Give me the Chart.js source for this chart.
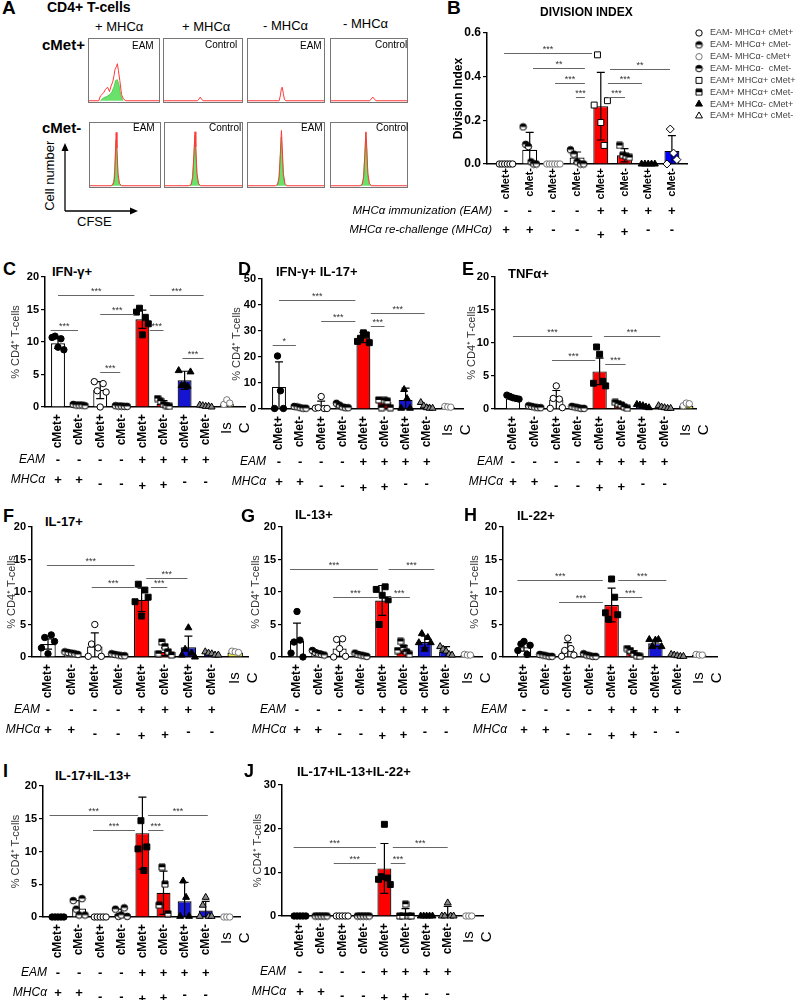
<!DOCTYPE html>
<html><head><meta charset="utf-8">
<script src="https://cdn.jsdelivr.net/npm/chart.js@4.4.1/dist/chart.umd.min.js"></script>
<style>
html,body{margin:0;padding:0;background:#fff}
body{position:relative;width:800px;height:1000px;overflow:hidden;font-family:'Liberation Sans',Arial,sans-serif}
.t{position:absolute;white-space:nowrap;color:#000}
canvas{position:absolute}
</style></head><body>
<svg width="800" height="1000" style="position:absolute;left:0;top:0">
 <line x1="65" y1="211" x2="65" y2="148" stroke="#000" stroke-width="1.3"/>
 <polygon points="65,143 61.5,151 68.5,151" fill="#000"/>
 <line x1="65" y1="211" x2="132" y2="211" stroke="#000" stroke-width="1.3"/>
 <polygon points="138,211 130,207.5 130,214.5" fill="#000"/>
</svg>
<script>
// ---------------- DATA ----------------
const cats  = ['cMet+','cMet-','cMet+','cMet-','cMet+','cMet-','cMet+','cMet-','IsC'];
const catsB = ['cMet+','cMet-','cMet+','cMet-','cMet+','cMet-','cMet+','cMet-'];
const eamSigns = ['-','-','-','-','+','+','+','+'];
const mhcSigns = ['+','+','-','-','+','+','-','-'];
const legendB = ['EAM- MHCα+ cMet+','EAM- MHCα+ cMet-','EAM- MHCα- cMet+','EAM- MHCα-  cMet-',
                 'EAM+ MHCα+ cMet+','EAM+ MHCα+ cMet-','EAM+ MHCα- cMet+','EAM+ MHCα+ cMet-'];

// B  Division index
const bMean = [0, 0.065, 0, 0.03, 0.265, 0.04, 0, 0.06];
const bSD   = [0, 0.08, 0, 0.025, 0.155, 0.03, 0, 0.07];
const bPts  = [[0,0,0,0,0,0],[0.17,0.09,0.08,0.01,0,0],[0,0,0,0,0,0],[0.065,0.045,0.01,0,0],
               [0.27,0.5,0.19,0.085,0.29],[0.085,0.04,0.035,0.03],[0,0,0,0,0],[0,0.16,0.05,0.02]];
const bSig  = [[-0.08,3.63,0.508,'***'],[1.14,3.33,0.44,'**'],[2.07,3.33,0.371,'***'],[2.95,3.33,0.307,'***'],
               [4.3,5.02,0.307,'***'],[4.3,5.74,0.371,'***'],[4.39,6.92,0.435,'**']];

// C  IFN-g+
const cMean = [9.8, 0.3, 2.6, 0.15, 13.5, 0.5, 4.1, 0.1, 0.5];
const cSD   = [0.8, 0.1, 1.3, 0.05, 1.4, 0.5, 1.4, 0.1, 0.3];
const cPts  = [[10.7,10.9,9.2,10.5,8.8],[0.4,0.3,0.3,0.3,0.2],[3.9,2.5,0,3.6,2.3],[0.2,0.15,0.15,0.1,0.1],
               [14.6,15.2,11.1,13.8,12.8],[1.3,0.9,0.4,0.2,0.1],[5.6,3.3,3.4,3.2,5.4],[0.3,0.2,0.1,0.1,0],[0.4,1.1,0.6]];
const cSig  = [[0,3.62,17.2,'***'],[2,3.62,14.3,'***'],[-0.35,0.95,11.8,'***'],[2.0,2.95,5.4,'***'],
               [4.35,5.0,11.8,'***'],[4.35,6.9,17.2,'***'],[5.9,6.9,7.5,'***']];

// D  IFN-g+ IL-17+
const dMean = [8.5, 0.5, 0.8, 1.0, 27.5, 2.8, 3.5, 0.6, 0.8];
const dSD   = [9.6, 0.3, 2.2, 0.7, 2.0, 1.2, 4.5, 0.8, 0.2];
const dPts  = [[0.2,20.4,7.0,0.2],[1.0,0.8,0.5,0.3,0.3],[0.3,0.5,4.8,0.2,0.2],[2.2,1.5,0.8,0.5,0.5],
               [26.0,27.2,29.3,28.5,25.5],[3.5,0.5,3.3,3.0,0.5],[0.3,7.5,4.0,0.3],[2.5,1.2,0.5,0.3,0.3],[1.0,0.8,0.7]];
const dSig  = [[-0.3,0.8,24.6,'*'],[0,3.62,42,'***'],[2,3.62,34,'***'],[4.35,5.0,32,'***'],[4.35,6.9,37,'***']];

// E  TNFa+
const eMean = [1.6, 0.3, 1.4, 0.2, 5.7, 0.6, 0.4, 0.2, 0.5];
const eSD   = [0.2, 0.1, 1.4, 0.1, 2.0, 0.3, 0.2, 0.2, 0.2];
const ePts  = [[2.1,1.9,1.7,1.6,1.5],[0.5,0.4,0.3,0.2,0.2],[0.1,1.6,3.5,1.5,0.2],[0.4,0.3,0.2,0.1,0.1],
               [3.9,9.4,8.3,4.2,3.5],[1.0,0.8,0.6,0.3,0.1],[0.7,0.6,0.5,0.3,0.2],[0.5,0.3,0.2,0.1,0.1],[0.5,0.9,0.8]];
const eSig  = [[0,3.66,11.1,'***'],[1.8,3.8,7.4,'***'],[4.26,5.2,6.8,'***'],[4.2,6.8,11.1,'***']];

// F  IL-17+
const fMean = [2.0, 0.6, 1.6, 0.3, 8.8, 0.8, 1.5, 0.5, 0.7];
const fSD   = [0.8, 0.2, 2.1, 0.1, 1.8, 0.6, 1.7, 0.2, 0.2];
const fPts  = [[1.4,3.0,0.5,3.4,2.4],[0.8,0.7,0.6,0.5,0.4],[0.1,2.0,5.0,1.4,0.1],[0.5,0.4,0.3,0.2,0.2],
               [8.5,11.2,6.3,10.3,9.2],[0.5,2.3,1.6,0.8,0.3],[0.3,1.2,4.5,0.6,0.0],[0.8,0.6,0.5,0.3,0.3],[0.9,0.8,0.7]];
const fSig  = [[-0.05,3.7,14.2,'***'],[1.87,3.7,10.8,'***'],[4.4,5.1,10.8,'***'],[4.2,5.96,12.2,'***']];

// G  IL-13+
const gMean = [2.5, 0.6, 1.3, 0.3, 8.7, 1.2, 2.3, 0.8, 0.3];
const gSD   = [2.7, 0.3, 1.2, 0.2, 2.3, 0.6, 0.9, 0.8, 0.1];
const gPts  = [[0.6,2.3,7.0,2.6,0.0],[1.0,0.7,0.5,0.4,0.3],[0.0,2.7,1.3,2.8,0.1],[0.6,0.4,0.3,0.2,0.1],
               [10.4,5.0,9.5,10.8,8.8],[1.0,2.4,1.4,0.8,0.4],[2.2,3.6,1.2,3.0,2.2],[1.6,1.2,0.9,0.4,0.3],[0.4,0.3,0.3]];
const gSig  = [[-0.33,3.8,13.6,'***'],[1.7,3.8,9.2,'***'],[4.3,5.3,9.2,'***'],[4.3,6.45,13.6,'***']];

// H  IL-22+
const hMean = [1.5, 0.2, 0.9, 0.2, 8.0, 0.6, 2.1, 0.2, 0.3];
const hSD   = [0.6, 0.1, 1.3, 0.1, 2.6, 0.4, 0.5, 0.1, 0.1];
const hPts  = [[1.0,2.0,2.4,0.4,1.8],[0.4,0.3,0.2,0.1,0.1],[0.1,1.0,2.9,1.3,0.3],[0.5,0.3,0.2,0.1,0.1],
               [6.8,5.8,12.0,9.2,6.5],[1.3,1.0,0.5,0.2,0.1],[2.7,1.6,2.6,2.7,1.6],[0.4,0.3,0.2,0.1,0.1],[0.4,0.3,0.3]];
const hSig  = [[-0.3,3.6,11.8,'***'],[1.6,3.6,8.4,'***'],[4.3,5.4,9.2,'***'],[4.3,6.5,11.8,'***']];

// I  IL-17+IL-13+
const iMean = [0, 1.3, 0, 0.5, 12.8, 3.7, 2.4, 1.0, 0];
const iSD   = [0, 1.2, 0, 0.7, 5.5, 3.3, 2.9, 1.4, 0];
const iPts  = [[0,0,0,0,0],[2.5,1.2,0.3,2.8,0.3],[0,0,0,0,0],[1.2,0.1,0.3,1.4,0.1],
               [10.4,14.7,7.1,10.7],[1.8,7.6,5.0,0.5],[0.1,5.5,3.0,0.1],[0.1,1.8,3.0,0.1,0.1],[0,0,0]];
const iSig  = [[-0.4,3.8,15.6,'***'],[1.66,3.65,13.3,'***'],[4.27,5.0,13.3,'***'],[4.27,7.1,15.6,'***']];

// J  IL-17+IL-13+IL-22+
const jMean = [0, 0, 0, 0, 10.9, 0.5, 0, 0.6, 0];
const jSD   = [0, 0, 0, 0, 5.7, 1.2, 0, 1.6, 0];
const jPts  = [[0,0,0,0,0],[0,0,0,0,0],[0,0,0,0,0],[0,0,0,0,0],
               [8.4,9.0,21.0,8.7,7.2],[0,0,2.7,0,0],[0,0,0,0,0],[0,0,3.0,0,0],[0,0,0]];
const jSig  = [[-0.3,3.6,15.8,'***'],[1.6,3.6,12.1,'***'],[4.3,5.0,12.1,'***'],[4.4,7.0,15.8,'***']];

// A  CFSE histograms (x: relative CFSE position 0-1, y: relative cell number 0-1)
const a1Red   = [[0,0],[0.14,0],[0.163,0.077],[0.21,0.13],[0.233,0.18],[0.265,0.22],[0.293,0.15],[0.316,0.24],[0.34,0.31],[0.358,0.41],[0.372,0.51],[0.395,0.56],[0.405,0.6],[0.42,0.49],[0.44,0.33],[0.465,0.1],[0.49,0.03],[0.526,0],[1,0]];
const a1Green = [[0.163,0],[0.21,0.05],[0.256,0.07],[0.3,0.1],[0.33,0.15],[0.358,0.23],[0.381,0.33],[0.405,0.34],[0.428,0.26],[0.451,0.1],[0.479,0.01],[0.49,0]];
const a2Red   = [[0,0],[0.43,0],[0.45,0.03],[0.465,0.06],[0.48,0.03],[0.5,0],[1,0]];
const a3Red   = [[0,0],[0.41,0],[0.425,0.08],[0.44,0.2],[0.45,0.22],[0.465,0.12],[0.48,0.02],[0.5,0],[1,0]];
const a4Red   = [[0,0],[0.51,0],[0.53,0.03],[0.55,0.06],[0.57,0.03],[0.59,0],[1,0]];
const a5Red   = [[0,0],[0.3,0],[0.33,0.02],[0.35,0.12],[0.36,0.4],[0.374,0.85],[0.385,0.6],[0.4,0.2],[0.42,0.04],[0.45,0],[1,0]];
const a5Green = [[0.31,0],[0.34,0.06],[0.355,0.3],[0.37,0.73],[0.385,0.5],[0.4,0.15],[0.42,0.02],[0.44,0]];
const a6Red   = [[0,0],[0.31,0],[0.34,0.02],[0.36,0.15],[0.375,0.5],[0.39,0.86],[0.4,0.62],[0.415,0.2],[0.435,0.04],[0.46,0],[1,0]];
const a6Green = [[0.33,0],[0.355,0.08],[0.372,0.4],[0.388,0.8],[0.4,0.55],[0.415,0.15],[0.435,0.02],[0.45,0]];
const a7Red   = [[0,0],[0.36,0],[0.39,0.02],[0.41,0.15],[0.425,0.5],[0.44,0.88],[0.45,0.62],[0.465,0.2],[0.485,0.04],[0.51,0],[1,0]];
const a7Green = [[0.38,0],[0.405,0.08],[0.422,0.4],[0.438,0.78],[0.45,0.55],[0.465,0.15],[0.485,0.02],[0.5,0]];
const a8Red   = [[0,0],[0.38,0],[0.41,0.02],[0.43,0.15],[0.445,0.5],[0.46,0.86],[0.47,0.62],[0.485,0.2],[0.505,0.04],[0.53,0],[1,0]];
const a8Green = [[0.4,0],[0.425,0.08],[0.442,0.42],[0.458,0.84],[0.47,0.58],[0.485,0.15],[0.505,0.02],[0.52,0]];

// --------------- STYLES ----------------
Chart.defaults.font.family = "'Liberation Sans', Arial, sans-serif";
Chart.defaults.color = '#000';
Chart.defaults.animation = false;
Chart.defaults.responsive = false;
Chart.defaults.plugins.legend.display = false;
Chart.defaults.plugins.tooltip.enabled = false;

const FF = "'Liberation Sans', Arial, sans-serif";
const barColors  = ['#ffffff','#ffffff','#ffffff','#ffffff','#ff0000','#ff0000','#1414d2','#1414d2','#eeee40'];
const barColorsB = ['#ffffff','#ffffff','#ffffff','#ffffff','#ff0000','#ff0000','#ffffff','#0000ff'];

function halfMarker(shape){
  const s = shape === 'circle' ? 9 : 8;
  const c = document.createElement('canvas'); c.width = s; c.height = s;
  const g = c.getContext('2d'); const m = s / 2;
  const path = () => { g.beginPath(); if (shape === 'circle') g.arc(m, m, m - 1.2, 0, Math.PI * 2); else g.rect(1, 1, s - 2, s - 2); };
  path(); g.fillStyle = '#fff'; g.fill();
  g.save(); path(); g.clip(); g.fillStyle = '#000'; g.fillRect(0, 0, s, m); g.restore();
  path(); g.strokeStyle = '#000'; g.lineWidth = 1; g.stroke();
  return c;
}
const ST = {
  fc:{ps:'circle', r:3.2, bg:'#000', bc:'#000'},
  oc:{ps:'circle', r:3.2, bg:'#fff', bc:'#000'},
  gc:{ps:'circle', r:3.2, bg:'#fff', bc:'#777'},
  hc:{ps:halfMarker('circle'), r:3.5, bg:'#000', bc:'#000'},
  fs:{ps:'rect', r:4.2, bg:'#000', bc:'#000'},
  os:{ps:'rect', r:4.2, bg:'#fff', bc:'#000'},
  hs:{ps:halfMarker('rect'), r:4, bg:'#000', bc:'#000'},
  ft:{ps:'triangle', r:4, bg:'#000', bc:'#000'},
  gt:{ps:'triangle', r:4, bg:'#888', bc:'#000'},
  ot:{ps:'triangle', r:4, bg:'#fff', bc:'#000'},
  od:{ps:'rectRot', r:4, bg:'#fff', bc:'#000'}
};
const groupStyles   = ['fc','hc','oc','hc','fs','hs','ft','gt','gc'];
const groupStylesB  = ['oc','hc','gc','hc','os','hs','ft','od'];
const legendStylesB = ['oc','hc','gc','hc','os','hs','ft','ot'];

function addCanvas(l, t, w, h){
  const c = document.createElement('canvas');
  c.width = w; c.height = h;
  c.style.cssText = `left:${l}px;top:${t}px;width:${w}px;height:${h}px`;
  document.body.appendChild(c);
  return c;
}
function T(txt, x, cy, size, o = {}){
  const d = document.createElement('div');
  d.className = 't'; d.textContent = txt;
  d.style.cssText = `left:${x}px;top:${cy - size * 0.6}px;font-size:${size}px;line-height:${size * 1.2}px;` +
    `font-weight:${o.bold ? 'bold' : 'normal'};font-style:${o.italic ? 'italic' : 'normal'};color:${o.color || '#000'}` + (o.css || '');
  document.body.appendChild(d);
  return d;
}
function drawMarker(ctx, s, x, y){
  ctx.save();
  if (typeof s.ps !== 'string'){ ctx.drawImage(s.ps, x - s.ps.width / 2, y - s.ps.height / 2); ctx.restore(); return; }
  ctx.fillStyle = s.bg; ctx.strokeStyle = s.bc; ctx.lineWidth = 1; ctx.beginPath();
  const r = s.r;
  if (s.ps === 'circle') ctx.arc(x, y, r, 0, Math.PI * 2);
  else if (s.ps === 'rect'){ const a = r * Math.SQRT1_2; ctx.rect(x - a, y - a, 2 * a, 2 * a); }
  else if (s.ps === 'triangle'){ ctx.moveTo(x, y - r); ctx.lineTo(x + r * 0.866, y + r / 2); ctx.lineTo(x - r * 0.866, y + r / 2); ctx.closePath(); }
  else if (s.ps === 'rectRot'){ ctx.moveTo(x, y - r); ctx.lineTo(x + r, y); ctx.lineTo(x, y + r); ctx.lineTo(x - r, y); ctx.closePath(); }
  ctx.fill(); ctx.stroke(); ctx.restore();
}
function jit(k, n){ return n > 1 ? (k - (n - 1) / 2) * Math.min(0.14, 0.56 / (n - 1)) : 0; }

function extras(P, cl, ct){
  return {
    id: 'extras',
    afterDatasetDraw(chart, args){
      if (args.index !== 0) return;
      const ctx = chart.ctx, xs = chart.scales.x, ys = chart.scales.y;
      ctx.save(); ctx.strokeStyle = '#000'; ctx.lineWidth = 1.2;
      P.mean.forEach((m, i) => {
        const s = P.sd[i]; if (!s) return;
        const px = xs.getPixelForValue(i);
        const top = ys.getPixelForValue(m + s), bot = ys.getPixelForValue(Math.max(0, m - s));
        ctx.beginPath(); ctx.moveTo(px, bot); ctx.lineTo(px, top);
        ctx.moveTo(px - 4, top); ctx.lineTo(px + 4, top);
        if (m - s > 0){ ctx.moveTo(px - 4, bot); ctx.lineTo(px + 4, bot); }
        ctx.stroke();
      });
      ctx.restore();
    },
    afterDraw(chart){
      const ctx = chart.ctx, xs = chart.scales.x, ys = chart.scales.y;
      ctx.save();
      ctx.strokeStyle = '#666'; ctx.lineWidth = 1; ctx.fillStyle = '#333';
      ctx.font = `9px ${FF}`; ctx.textAlign = 'center'; ctx.textBaseline = 'alphabetic';
      P.sig.forEach(([a, b, v, t]) => {
        const xa = xs.getPixelForValue(a), xb = xs.getPixelForValue(b);
        const yy = Math.round(ys.getPixelForValue(v)) + 0.5;
        ctx.beginPath(); ctx.moveTo(xa, yy); ctx.lineTo(xb, yy); ctx.stroke();
        ctx.fillText(t, (xa + xb) / 2, yy - 2);
      });
      const base = ys.getPixelForValue(0);
      ctx.fillStyle = '#000'; ctx.font = `bold 13px ${FF}`; ctx.textBaseline = 'middle';
      eamSigns.forEach((s, i) => ctx.fillText(s, xs.getPixelForValue(i), base + P.eamDy));
      mhcSigns.forEach((s, i) => ctx.fillText(s, xs.getPixelForValue(i), base + P.mhcDy + (P.mhcShift ? P.mhcShift[i] : 0)));
      ctx.font = `italic ${P.lblSize || 12}px ${FF}`; ctx.textAlign = 'right';
      const lx = xs.left + P.lblDx;
      ctx.fillText(P.lblEam, lx, base + P.eamDy);
      ctx.fillText(P.lblMhc, lx, base + P.mhcDy);
      if (P.legend){
        ctx.textAlign = 'left'; ctx.font = `9px ${FF}`;
        legendB.forEach((txt, k) => {
          const y = 33 + k * 11.85 - ct;
          drawMarker(ctx, ST[legendStylesB[k]], 699 - cl, y);
          ctx.fillStyle = '#444'; ctx.fillText(txt, 710 - cl, y);
        });
      }
      ctx.restore();
    }
  };
}

function barPanel(P){
  const yW = P.yW, padL = P.padL || 6;
  const cl = P.axisX - yW - padL, ct = P.yTop - 16;
  const cr = P.right || (P.axisEnd + 34), cb = P.y0 + 88;
  const cv = addCanvas(cl, ct, cr - cl, cb - ct);
  const xH = 50;
  const xmin = (P.axisX - P.x0) / P.unit, xmax = (P.axisEnd - P.x0) / P.unit;
  const ds = [{
    type: 'bar', data: P.mean.map((m, i) => ({x: i, y: m})),
    backgroundColor: P.colors, borderColor: '#000', borderWidth: 1.2,
    barPercentage: P.barPct || 0.66, categoryPercentage: 1, order: 10
  }];
  P.pts.forEach((arr, g) => {
    const s = ST[P.styles[g]];
    ds.push({
      type: 'scatter', data: arr.map((v, k) => ({x: g + jit(k, arr.length), y: v})),
      pointStyle: s.ps, pointRadius: s.r, pointBackgroundColor: s.bg, pointBorderColor: s.bc,
      pointBorderWidth: 1, showLine: false, clip: false, order: 1
    });
  });
  new Chart(cv, {
    type: 'bar',
    data: {datasets: ds},
    options: {
      layout: {padding: {left: padL, top: P.yTop - ct, right: cr - P.axisEnd, bottom: (cb - P.y0) - xH}},
      scales: {
        x: {
          type: 'linear', min: xmin, max: xmax, offset: false,
          afterBuildTicks: s => { s.ticks = P.labels.map((_, i) => ({value: i})); },
          ticks: {
            autoSkip: false, minRotation: 90, maxRotation: 90, padding: P.xPad || 7,
            callback: v => { const i = Math.round(v); return i === 8 ? ['Is  ', 'C  '] : P.labels[i]; },
            font: c => (c.index === 8 ? {size: 15, weight: 'normal'} : {size: P.xFont || 12, weight: 'bold'})
          },
          grid: {display: false, drawTicks: false},
          border: {display: true, color: '#000', width: 1.5},
          afterFit: s => { s.height = xH; }
        },
        y: {
          min: 0, max: P.ymax,
          ticks: {stepSize: P.step, padding: 2, font: {size: P.yFont || 11, weight: 'bold'},
                  callback: v => P.dec ? v.toFixed(P.dec) : String(Math.round(v))},
          grid: {display: true, drawOnChartArea: false, drawTicks: true, tickLength: 4, color: '#000', lineWidth: 1.2},
          border: {display: true, color: '#000', width: 1.5},
          title: {display: true, text: P.ytitle, font: P.ytFont || {size: 11}, color: P.ytColor || '#333', padding: {top: 4, bottom: 0}},
          afterFit: s => { s.width = yW; }
        }
      }
    },
    plugins: [extras(P, cl, ct)]
  });
}

const frame = {
  id: 'frame',
  afterDraw(chart){
    const c = chart.ctx, w = chart.width, h = chart.height;
    c.save(); c.strokeStyle = '#777'; c.lineWidth = 1; c.strokeRect(0.5, 0.5, w - 1, h - 1);
    c.restore();
  }
};
function histPanel(l, t, w, h, red, green){
  const cv = addCanvas(l, t, w, h);
  const ds = [{data: red.map(p => ({x: p[0], y: p[1]})), borderColor: '#ff3838', borderWidth: 1, pointRadius: 0, fill: false, tension: 0}];
  if (green) ds.push({data: green.map(p => ({x: p[0], y: p[1]})), borderColor: '#3ccc3c', backgroundColor: 'rgba(90,222,90,0.9)',
                      borderWidth: 0.8, pointRadius: 0, fill: 'origin', tension: 0});
  new Chart(cv, {
    type: 'line', data: {datasets: ds},
    options: {layout: {padding: 1},
      scales: {x: {type: 'linear', min: 0, max: 1, display: false}, y: {min: -0.02, max: 1, display: false}}},
    plugins: [frame]
  });
}

// ---------------- PANEL A ----------------
T('A', 2, 8, 19, {bold: true});
T('CD4+ T-cells', 47, 7, 14, {bold: true});
T('+ MHCα', 95, 27, 13); T('+ MHCα', 182, 27, 13); T('- MHCα', 263, 26, 13); T('- MHCα', 343, 24, 13);
T('cMet+', 42, 45, 15, {bold: true}); T('cMet-', 42, 128, 15, {bold: true});
histPanel(88, 38, 72, 65, a1Red, a1Green);
histPanel(163, 38, 80, 65, a2Red, null);
histPanel(247, 38, 78, 65, a3Red, null);
histPanel(330, 38, 78, 65, a4Red, null);
histPanel(89, 122, 72, 66, a5Red, a5Green);
histPanel(164, 122, 79, 66, a6Red, a6Green);
histPanel(247, 122, 78, 66, a7Red, a7Green);
histPanel(330, 122, 78, 66, a8Red, a8Green);
T('EAM', 132, 46, 10); T('Control', 205, 45, 10); T('EAM', 300, 46, 10); T('Control', 375, 45, 10);
T('EAM', 133, 128, 10); T('Control', 209, 128, 10); T('EAM', 301, 128, 10); T('Control', 376, 128, 10);
T('Cell number', 0, 176, 13, {css: ';width:100px;text-align:center;transform:rotate(-90deg)'});
T('CFSE', 77, 222, 13);

// ---------------- PANEL B ----------------
T('B', 447, 8, 19, {bold: true});
T('DIVISION INDEX', 540, 12, 12, {bold: true});
barPanel({labels: catsB, mean: bMean, sd: bSD, pts: bPts, sig: bSig, colors: barColorsB, styles: groupStylesB,
  axisX: 487, axisEnd: 687, x0: 506, unit: 23.7, yTop: 33, y0: 164, ymax: 0.6, step: 0.2, dec: 1,
  yW: 40, padL: 97, right: 800, eamDy: 47, mhcDy: 66, mhcShift: [0,0,0,0,5,2,0,0], lblDx: 5, lblSize: 11.5,
  lblEam: 'MHCα immunization (EAM)', lblMhc: 'MHCα re-challenge (MHCα)', ytitle: 'Division Index',
  ytFont: {size: 12, weight: 'bold'}, ytColor: '#000', yFont: 12, xFont: 11, xPad: 4, barPct: 0.63, legend: true});

// ---------------- PANELS C-J ----------------
const common = {labels: cats, colors: barColors, styles: groupStyles, ymax: 20, step: 5, eamDy: 53, mhcDy: 73,
  mhcShift: [0,0,4,4,6,5,2,2], lblDx: 4, lblEam: 'EAM', lblMhc: 'MHCα', ytitle: '% CD4⁺ T-cells'};
T('C', 3, 270, 18, {bold: true}); T('IFN-γ+', 52, 272, 13, {bold: true});
barPanel(Object.assign({}, common, {mean: cMean, sd: cSD, pts: cPts, sig: cSig, axisX: 45, axisEnd: 245, x0: 58, unit: 21.1, yTop: 277, y0: 407, yW: 40, lblDx: 0}));
T('D', 238, 270, 18, {bold: true}); T('IFN-γ+ IL-17+', 276, 272, 13, {bold: true});
barPanel(Object.assign({}, common, {mean: dMean, sd: dSD, pts: dPts, sig: dSig, axisX: 262, axisEnd: 463, x0: 279, unit: 21.1, yTop: 279, y0: 409, ymax: 50, step: 10, yW: 36}));
T('E', 462, 270, 18, {bold: true}); T('TNFα+', 508, 274, 13, {bold: true});
barPanel(Object.assign({}, common, {mean: eMean, sd: eSD, pts: ePts, sig: eSig, axisX: 495, axisEnd: 697, x0: 513, unit: 21.7, yTop: 277, y0: 409, yW: 34, lblDx: 8}));
T('F', 3, 517, 18, {bold: true}); T('IL-17+', 45, 522, 13, {bold: true});
barPanel(Object.assign({}, common, {mean: fMean, sd: fSD, pts: fPts, sig: fSig, axisX: 32, axisEnd: 248, x0: 48, unit: 23.4, yTop: 527, y0: 657, yW: 31, lblDx: 8}));
T('G', 241, 517, 18, {bold: true}); T('IL-13+', 295, 515, 13, {bold: true});
barPanel(Object.assign({}, common, {mean: gMean, sd: gSD, pts: gPts, sig: gSig, axisX: 282, axisEnd: 482, x0: 297, unit: 21.3, yTop: 527, y0: 657, yW: 37}));
T('H', 464, 516, 18, {bold: true}); T('IL-22+', 517, 516, 13, {bold: true});
barPanel(Object.assign({}, common, {mean: hMean, sd: hSD, pts: hPts, sig: hSig, axisX: 503, axisEnd: 717, x0: 524, unit: 21.9, yTop: 527, y0: 657, yW: 39}));
T('I', 3, 772, 18, {bold: true}); T('IL-17+IL-13+', 55, 776, 13, {bold: true});
barPanel(Object.assign({}, common, {mean: iMean, sd: iSD, pts: iPts, sig: iSig, axisX: 43, axisEnd: 240, x0: 58, unit: 21.1, yTop: 786, y0: 917, yW: 38, eamDy: 56, mhcDy: 76}));
T('J', 244, 772, 18, {bold: true}); T('IL-17+IL-13+IL-22+', 297, 772, 13, {bold: true});
barPanel(Object.assign({}, common, {mean: jMean, sd: jSD, pts: jPts, sig: jSig, axisX: 282, axisEnd: 483, x0: 300, unit: 21.1, yTop: 785, y0: 916, ymax: 30, step: 10, yW: 35, eamDy: 56, mhcDy: 76}));
</script>
</body></html>
